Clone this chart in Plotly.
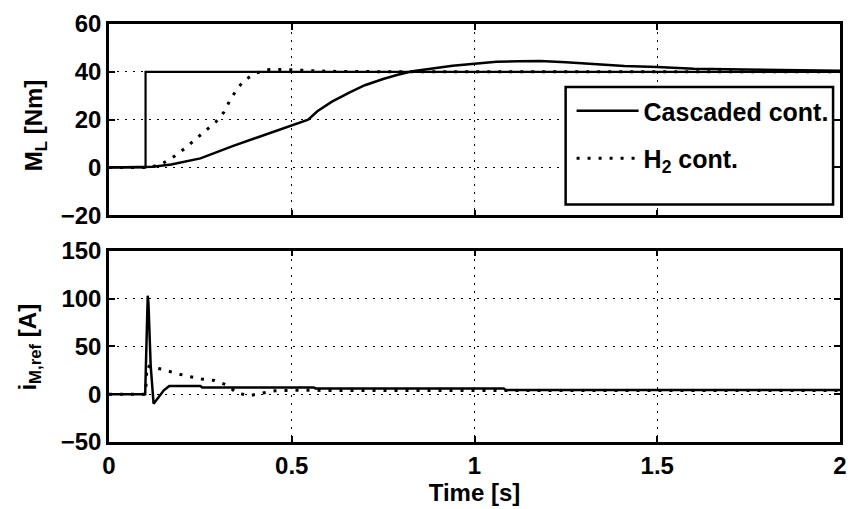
import plotly.graph_objects as go

# ---- data ----
t_ref = [0, 0.1, 0.1, 2.0]
ml_ref = [0, 0, 40, 40]

t_casc = [0, 0.1, 0.12, 0.17, 0.25, 0.34, 0.43, 0.5, 0.545, 0.57, 0.61, 0.66, 0.70,
          0.75, 0.79, 0.83, 0.88, 0.94, 1.0, 1.06, 1.12, 1.18, 1.25, 1.31, 1.41, 1.5,
          1.6, 1.74, 1.87, 2.0]
ml_casc = [0, 0, 0.3, 1.2, 3.8, 9.0, 13.8, 17.7, 20.0, 23.5, 27.5, 31.5, 34.4,
           37.0, 38.8, 40.2, 41.3, 42.5, 43.4, 44.2, 44.4, 44.5, 44.0, 43.4, 42.4, 42.0,
           41.3, 41.0, 40.6, 40.4]

t_h2 = [0, 0.1, 0.12, 0.147, 0.179, 0.208, 0.236, 0.265, 0.292, 0.314, 0.33, 0.349,
        0.368, 0.397, 0.432, 0.472, 0.52, 0.6, 0.8, 1.0, 1.5, 2.0]
ml_h2 = [0, 0, 0.4, 1.7, 4.7, 8.0, 11.7, 15.5, 19.0, 23.0, 27.8, 32.5,
         36.1, 39.2, 40.9, 41.0, 40.6, 40.2, 40.0, 40.0, 40.0, 40.0]

t_i_casc = [0, 0.099, 0.103, 0.106, 0.108, 0.114, 0.122, 0.13, 0.14, 0.15, 0.165,
            0.25, 0.255, 0.56, 0.565, 1.08, 1.085, 2.0]
i_casc = [0, 0, 60, 103, 95, 30, -10, -6, 0, 4, 8.5,
          8.5, 7, 7, 6, 6, 4.5, 4.5]

t_i_h2 = [0, 0.1, 0.104, 0.113, 0.147, 0.183, 0.218, 0.253, 0.289, 0.322, 0.35,
          0.385, 0.42, 0.454, 0.5, 0.7, 1.0, 1.5, 2.0]
i_h2 = [0, 0, 30, 28.4, 26, 21.8, 18.6, 15.8, 14.4, 9.7, 1.2,
        -1.5, 1.2, 3.6, 4.0, 4.0, 4.0, 3.8, 3.8]

x_ticks = [0, 0.5, 1, 1.5, 2]
x_labels = ["0", "0.5", "1", "1.5", "2"]
y1_ticks = [-20, 0, 20, 40, 60]
y2_ticks = [-50, 0, 50, 100, 150]

FONT = "Liberation Sans, Arial, Helvetica, sans-serif"
BLK = "black"
DOT = "3px,8px"
FS = 24

# plot-area pixel geometry helpers (paper coords)
L, R, T, B = 109, 10, 18, 67
PW, PH = 857 - L - R, 509 - T - B
px = lambda v: (v - L) / PW
py = lambda v: (509 - B - v) / PH

fig = go.Figure()
fig.add_trace(go.Scatter(x=t_ref, y=ml_ref, mode="lines", line=dict(color=BLK, width=2.2),
                         showlegend=False, xaxis="x", yaxis="y"))
fig.add_trace(go.Scatter(x=t_casc, y=ml_casc, mode="lines", name="Cascaded cont.",
                         line=dict(color=BLK, width=2.5), legendgroup="a",
                         xaxis="x", yaxis="y"))
fig.add_trace(go.Scatter(x=t_h2, y=ml_h2, mode="lines", name="H<sub>2</sub> cont.",
                         line=dict(color=BLK, width=3, dash=DOT), legendgroup="b",
                         xaxis="x", yaxis="y"))
fig.add_trace(go.Scatter(x=t_i_casc, y=i_casc, mode="lines", line=dict(color=BLK, width=2.5),
                         showlegend=False, xaxis="x2", yaxis="y2"))
fig.add_trace(go.Scatter(x=t_i_h2, y=i_h2, mode="lines", line=dict(color=BLK, width=3, dash=DOT),
                         showlegend=False, xaxis="x2", yaxis="y2"))

axis_common = dict(showline=True, linecolor=BLK, linewidth=2.5, mirror="ticks",
                   ticks="inside", ticklen=6, tickwidth=2, tickcolor=BLK,
                   showgrid=True, gridcolor=BLK, gridwidth=1.3, griddash="2px,6px",
                   zeroline=False, tickfont=dict(family=FONT, size=FS, color=BLK, weight="bold"))

top_dom = [py(212), 1.0]
bot_dom = [0.0, py(248)]

fig.update_layout(
    width=857, height=509,
    margin=dict(l=L, r=R, t=T, b=B),
    paper_bgcolor="white", plot_bgcolor="white",
    font=dict(family=FONT, color=BLK, weight="bold"),
    xaxis=dict(axis_common, domain=[0, 1], range=[0, 2], tickvals=x_ticks,
               showticklabels=False, anchor="y"),
    yaxis=dict(axis_common, domain=top_dom, range=[-20, 60], tickvals=y1_ticks, anchor="x"),
    xaxis2=dict(axis_common, domain=[0, 1], range=[0, 2], tickvals=x_ticks,
                ticktext=x_labels, anchor="y2",
                title=dict(text="Time [s]", font=dict(family=FONT, size=FS, color=BLK, weight="bold"),
                           standoff=4)),
    yaxis2=dict(axis_common, domain=bot_dom, range=[-50, 150], tickvals=y2_ticks, anchor="x2"),
    legend=dict(x=px(576), xanchor="left", y=py(83), yanchor="top",
                borderwidth=0, bgcolor="rgba(0,0,0,0)",
                font=dict(family=FONT, size=25, color=BLK, weight="bold"),
                tracegroupgap=12, traceorder="grouped", itemwidth=62),
    showlegend=True,
    shapes=[dict(type="rect", xref="paper", yref="paper", x0=px(570), x1=px(840),
                 y0=py(201), y1=py(82), fillcolor="white", line=dict(color=BLK, width=2.5),
                 layer="above")],
    annotations=[
        dict(text="M<sub>L</sub> [Nm]", xref="paper", yref="paper",
             x=px(35), y=py(121), textangle=-90, showarrow=False,
             xanchor="center", yanchor="middle",
             font=dict(family=FONT, size=FS, color=BLK, weight="bold")),
        dict(text="i<sub>M,ref</sub> [A]", xref="paper", yref="paper",
             x=px(29), y=py(345.5), textangle=-90, showarrow=False,
             xanchor="center", yanchor="middle",
             font=dict(family=FONT, size=FS, color=BLK, weight="bold")),
    ],
)

fig.write_html("out.html")
